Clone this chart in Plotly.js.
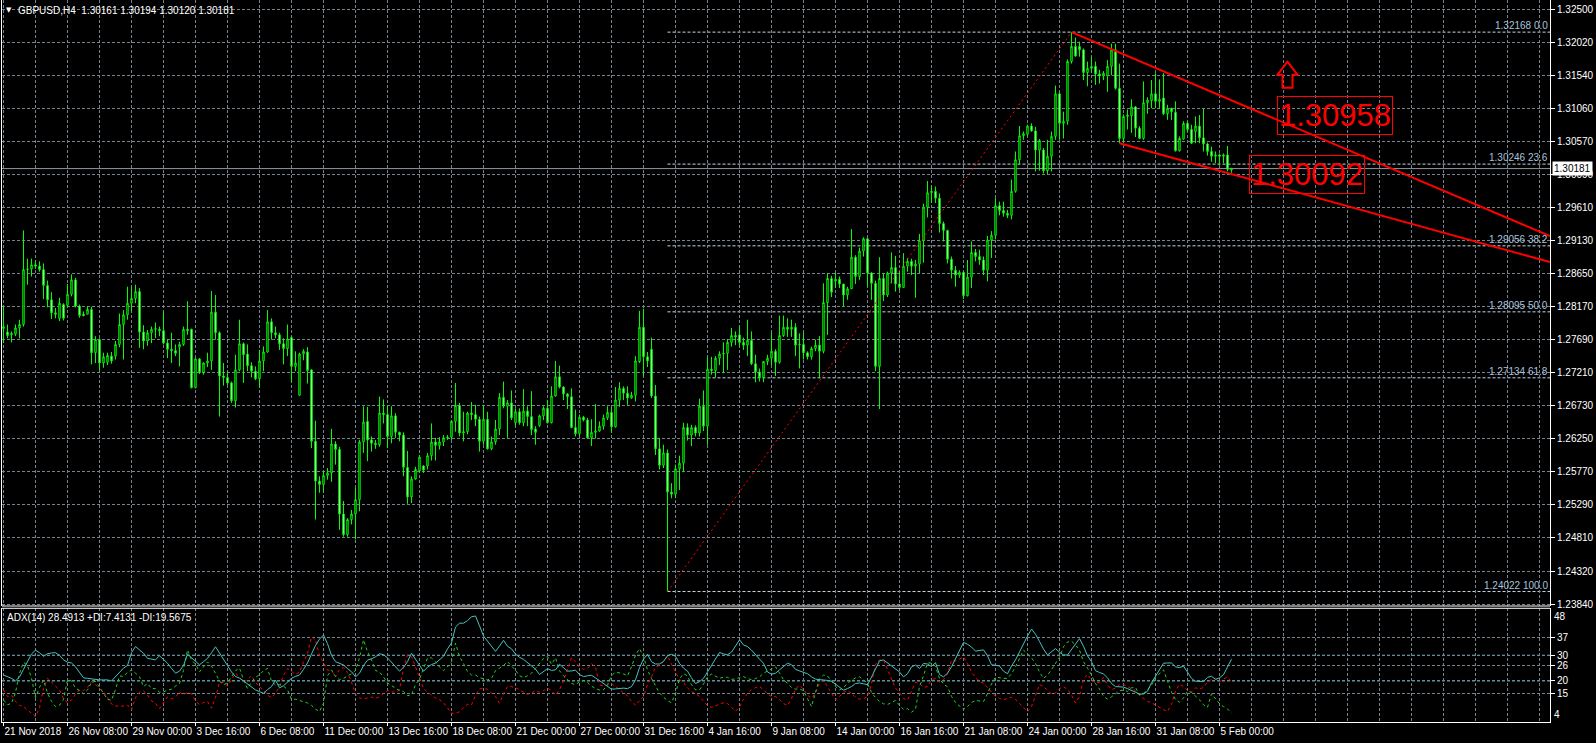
<!DOCTYPE html>
<html><head><meta charset="utf-8">
<script src="https://cdn.plot.ly/plotly-3.0.1.min.js"></script>
<style>html,body{margin:0;padding:0;background:#000;overflow:hidden}#chart{width:1596px;height:743px}</style>
</head><body><div id="chart"></div>
<script>
const symbolTitle = 'GBPUSD,H4\u00a0 1.30161 1.30194 1.30120 1.30181';
const adxTitle = 'ADX(14) 28.4913 +DI:7.4131 -DI:19.5675';
const timeLabels = ['21 Nov 2018','26 Nov 08:00','29 Nov 00:00','3 Dec 16:00','6 Dec 08:00','11 Dec 00:00','13 Dec 16:00','18 Dec 08:00','21 Dec 00:00','27 Dec 00:00','31 Dec 16:00','4 Jan 16:00','9 Jan 08:00','14 Jan 00:00','16 Jan 16:00','21 Jan 08:00','24 Jan 00:00','28 Jan 16:00','31 Jan 08:00','5 Feb 00:00'];
const barsPerLabel = 16;
const priceTickLabels = ['1.32500','1.32020','1.31540','1.31060','1.30570','1.30090','1.29610','1.29130','1.28650','1.28170','1.27690','1.27210','1.26730','1.26250','1.25770','1.25290','1.24810','1.24320','1.23840'];
const adxTickLabels = ['37','30','26','20','15'];
const adxEdgeLabels = ['48','4'];

const open = [
1.2785,1.2780,1.2776,1.2777,1.2786,1.2791,1.2871,1.2872,1.2878,1.2876,
1.2871,1.2848,1.2827,1.2808,1.2800,1.2820,1.2819,1.2835,1.2856,1.2818,
1.2806,1.2806,1.2813,1.2750,1.2769,1.2735,1.2736,1.2745,1.2745,1.2762,
1.2791,1.2805,1.2822,1.2829,1.2839,1.2780,1.2767,1.2779,1.2784,1.2784,
1.2782,1.2764,1.2755,1.2753,1.2758,1.2762,1.2784,1.2784,1.2699,1.2741,
1.2721,1.2735,1.2738,1.2809,1.2779,1.2716,1.2714,1.2706,1.2680,1.2725,
1.2763,1.2748,1.2731,1.2723,1.2712,1.2738,1.2751,1.2795,1.2779,1.2776,
1.2763,1.2756,1.2772,1.2730,1.2688,1.2748,1.2751,1.2725,1.2621,1.2563,
1.2558,1.2571,1.2575,1.2617,1.2609,1.2515,1.2485,1.2507,1.2515,1.2536,
1.2620,1.2650,1.2623,1.2618,1.2616,1.2662,1.2660,1.2628,1.2658,1.2634,
1.2630,1.2583,1.2540,1.2566,1.2578,1.2585,1.2585,1.2600,1.2620,1.2615,
1.2620,1.2626,1.2627,1.2650,1.2673,1.2633,1.2635,1.2662,1.2660,1.2653,
1.2621,1.2653,1.2610,1.2620,1.2639,1.2685,1.2672,1.2677,1.2648,1.2664,
1.2648,1.2665,1.2657,1.2639,1.2644,1.2658,1.2669,1.2648,1.2687,1.2715,
1.2700,1.2690,1.2686,1.2641,1.2632,1.2656,1.2652,1.2626,1.2634,1.2636,
1.2643,1.2655,1.2663,1.2642,1.2681,1.2698,1.2691,1.2684,1.2688,1.2737,
1.2787,1.2744,1.2755,1.2687,1.2610,1.2586,1.2604,1.2547,1.2544,1.2581,
1.2589,1.2641,1.2630,1.2641,1.2633,1.2672,1.2643,1.2726,1.2724,1.2742,
1.2748,1.2749,1.2765,1.2775,1.2776,1.2765,1.2761,1.2768,1.2734,1.2722,
1.2714,1.2737,1.2742,1.2752,1.2736,1.2775,1.2787,1.2784,1.2787,1.2761,
1.2762,1.2750,1.2744,1.2756,1.2761,1.2752,1.2823,1.2858,1.2854,1.2857,
1.2850,1.2834,1.2843,1.2889,1.2861,1.2898,1.2916,1.2866,1.2851,1.2730,
1.2858,1.2834,1.2866,1.2874,1.2850,1.2845,1.2876,1.2883,1.2876,1.2879,
1.2913,1.2962,1.2983,1.2985,1.2975,1.2938,1.2928,1.2886,1.2870,1.2863,
1.2867,1.2833,1.2860,1.2896,1.2890,1.2885,1.2870,1.2914,1.2921,1.2964,
1.2957,1.2953,1.2950,1.2985,1.3031,1.3066,1.3068,1.3080,1.3073,1.3045,
1.3045,1.3015,1.3036,1.3065,1.3127,1.3084,1.3087,1.3174,1.3196,1.3196,
1.3191,1.3158,1.3164,1.3167,1.3156,1.3153,1.3153,1.3167,1.3191,1.3135,
1.3062,1.3094,1.3095,1.3108,1.3077,1.3062,1.3114,1.3117,1.3127,1.3116,
1.3121,1.3098,1.3106,1.3100,1.3044,1.3061,1.3084,1.3075,1.3072,1.3080,
1.3063,1.3054,1.3043,1.3036,1.3038,1.3036,1.3038,1.30161];
const high = [
1.2818,1.2791,1.2781,1.2791,1.2798,1.2928,1.2887,1.2887,1.2885,1.2883,
1.2880,1.2855,1.2838,1.2815,1.2830,1.2822,1.2850,1.2864,1.2859,1.2820,
1.2810,1.2818,1.2817,1.2774,1.2771,1.2750,1.2750,1.2751,1.2767,1.2807,
1.2812,1.2846,1.2846,1.2849,1.2844,1.2790,1.2783,1.2788,1.2794,1.2788,
1.2810,1.2770,1.2779,1.2762,1.2766,1.2788,1.2825,1.2785,1.2742,1.2742,
1.2736,1.2750,1.2840,1.2834,1.2781,1.2735,1.2722,1.2708,1.2747,1.2798,
1.2765,1.2762,1.2736,1.2730,1.2754,1.2759,1.2812,1.2800,1.2788,1.2779,
1.2771,1.2791,1.2774,1.2752,1.2750,1.2755,1.2758,1.2725,1.2651,1.2570,
1.2577,1.2582,1.2639,1.2621,1.2613,1.2534,1.2509,1.2521,1.2553,1.2623,
1.2672,1.2671,1.2628,1.2623,1.2686,1.2682,1.2673,1.2672,1.2662,1.2635,
1.2634,1.2607,1.2570,1.2584,1.2601,1.2586,1.2604,1.2647,1.2626,1.2627,
1.2630,1.2630,1.2652,1.2706,1.2677,1.2664,1.2664,1.2678,1.2674,1.2657,
1.2674,1.2664,1.2628,1.2652,1.2691,1.2708,1.2681,1.2695,1.2669,1.2669,
1.2697,1.2672,1.2694,1.2643,1.2660,1.2672,1.2681,1.2701,1.2738,1.2731,
1.2701,1.2691,1.2698,1.2667,1.2660,1.2658,1.2655,1.2653,1.2675,1.2650,
1.2660,1.2672,1.2671,1.2700,1.2707,1.2701,1.2701,1.2693,1.2745,1.2811,
1.2814,1.2751,1.2772,1.2703,1.2626,1.2616,1.2609,1.2560,1.2587,1.2600,
1.2648,1.2647,1.2645,1.2644,1.2683,1.2695,1.2743,1.2744,1.2745,1.2752,
1.2765,1.2770,1.2786,1.2781,1.2789,1.2772,1.2798,1.2781,1.2747,1.2727,
1.2738,1.2747,1.2779,1.2755,1.2804,1.2804,1.2800,1.2798,1.2793,1.2778,
1.2779,1.2752,1.2759,1.2769,1.2774,1.2851,1.2866,1.2862,1.2866,1.2861,
1.2850,1.2846,1.2930,1.2892,1.2903,1.2918,1.2916,1.2867,1.2855,1.2889,
1.2866,1.2868,1.2896,1.2891,1.2868,1.2895,1.2888,1.2887,1.2885,1.2923,
1.2967,1.3000,1.2993,1.2992,1.2982,1.2941,1.2929,1.2890,1.2876,1.2870,
1.2868,1.2885,1.2912,1.2901,1.2900,1.2890,1.2920,1.2927,1.2975,1.2970,
1.2970,1.2958,1.3002,1.3043,1.3080,1.3072,1.3082,1.3084,1.3079,1.3061,
1.3048,1.3060,1.3072,1.3139,1.3130,1.3101,1.3177,1.32168,1.3209,1.3203,
1.3193,1.3174,1.3181,1.3174,1.3162,1.3160,1.3176,1.3200,1.3200,1.3171,
1.3097,1.3104,1.3119,1.3109,1.3080,1.3145,1.3122,1.3147,1.3157,1.3148,
1.3157,1.3111,1.3106,1.3116,1.3065,1.3087,1.3087,1.3082,1.3094,1.3096,
1.3105,1.3056,1.3050,1.3043,1.3040,1.3040,1.3051,1.30194];
const low = [
1.2764,1.2771,1.2765,1.2774,1.2771,1.2788,1.2849,1.2861,1.2872,1.2868,
1.2828,1.2816,1.2799,1.2800,1.2796,1.2797,1.2816,1.2832,1.2816,1.2801,
1.2803,1.2806,1.2733,1.2735,1.2724,1.2728,1.2732,1.2734,1.2740,1.2758,
1.2740,1.2798,1.2810,1.2822,1.2757,1.2755,1.2760,1.2764,1.2771,1.2774,
1.2762,1.2742,1.2735,1.2745,1.2730,1.2760,1.2776,1.2698,1.2698,1.2719,
1.2718,1.2729,1.2725,1.2769,1.2657,1.2702,1.2703,1.2677,1.2670,1.2723,
1.2706,1.2723,1.2714,1.2710,1.2699,1.2723,1.2750,1.2769,1.2771,1.2754,
1.2733,1.2745,1.2707,1.2723,1.2687,1.2739,1.2705,1.2611,1.2507,1.2546,
1.2546,1.2565,1.2562,1.2587,1.2492,1.2482,1.2482,1.2500,1.2478,1.2519,
1.2604,1.2592,1.2606,1.2610,1.2613,1.2647,1.2611,1.2618,1.2626,1.2621,
1.2570,1.2530,1.2531,1.2565,1.2575,1.2575,1.2580,1.2593,1.2593,1.2609,
1.2614,1.2623,1.2623,1.2635,1.2628,1.2621,1.2631,1.2652,1.2643,1.2606,
1.2616,1.2609,1.2608,1.2616,1.2630,1.2669,1.2626,1.2652,1.2643,1.2645,
1.2643,1.2643,1.2630,1.2616,1.2642,1.2652,1.2647,1.2647,1.2686,1.2698,
1.2681,1.2668,1.2640,1.2628,1.2628,1.2650,1.2625,1.2614,1.2625,1.2635,
1.2638,1.2652,1.2633,1.2641,1.2671,1.2681,1.2674,1.2683,1.2679,1.2735,
1.2716,1.2729,1.2684,1.2601,1.2580,1.2582,1.24022,1.2538,1.2538,1.2550,
1.2576,1.2622,1.2614,1.2628,1.2628,1.2636,1.2616,1.2718,1.2714,1.2732,
1.2720,1.2725,1.2759,1.2761,1.2759,1.2754,1.2745,1.2732,1.2707,1.2708,
1.2707,1.2732,1.2732,1.2716,1.2734,1.2773,1.2773,1.2773,1.2745,1.2727,
1.2740,1.2740,1.2740,1.2752,1.2713,1.2749,1.2776,1.2831,1.2844,1.2844,
1.2817,1.2827,1.2843,1.2850,1.2856,1.2890,1.2846,1.2827,1.2723,1.2668,
1.2825,1.2831,1.2851,1.2839,1.2841,1.2845,1.2868,1.2863,1.2830,1.2866,
1.2881,1.2947,1.2968,1.2968,1.2925,1.2912,1.2880,1.2858,1.2846,1.2859,
1.2828,1.2832,1.2844,1.2883,1.2878,1.2863,1.2854,1.2888,1.2915,1.2950,
1.2948,1.2946,1.2944,1.2983,1.3024,1.3060,1.3066,1.3072,1.3014,1.3015,
1.3011,1.3010,1.3014,1.3060,1.3060,1.3062,1.3082,1.3171,1.3181,1.3181,
1.3147,1.3138,1.3157,1.3140,1.3142,1.3147,1.3130,1.3154,1.3133,1.3055,
1.3057,1.3075,1.3070,1.3064,1.3061,1.3060,1.3098,1.3106,1.3106,1.3105,
1.3096,1.3089,1.3089,1.3043,1.3043,1.3060,1.3072,1.3054,1.3055,1.3055,
1.3043,1.3037,1.3028,1.3026,1.3024,1.3026,1.3014,1.30120];
const close = [
1.2788,1.2775,1.2778,1.2786,1.2791,1.2871,1.2872,1.2878,1.2876,1.2871,
1.2848,1.2827,1.2808,1.2806,1.2822,1.2800,1.2835,1.2856,1.2818,1.2804,
1.2804,1.2813,1.2750,1.2769,1.2735,1.2744,1.2746,1.2738,1.2762,1.2791,
1.2805,1.2822,1.2829,1.2839,1.2780,1.2767,1.2779,1.2784,1.2785,1.2782,
1.2764,1.2755,1.2753,1.2749,1.2762,1.2784,1.2782,1.2699,1.2741,1.2721,
1.2735,1.2738,1.2809,1.2779,1.2716,1.2714,1.2706,1.2680,1.2725,1.2763,
1.2747,1.2731,1.2723,1.2712,1.2738,1.2751,1.2795,1.2779,1.2776,1.2763,
1.2756,1.2770,1.2730,1.2735,1.2748,1.2752,1.2724,1.2621,1.2563,1.2558,
1.2571,1.2575,1.2617,1.2609,1.2515,1.2485,1.2507,1.2515,1.2536,1.2620,
1.2649,1.2623,1.2618,1.2616,1.2662,1.2660,1.2628,1.2658,1.2634,1.2630,
1.2583,1.2540,1.2566,1.2580,1.2598,1.2579,1.2600,1.2620,1.2615,1.2620,
1.2626,1.2627,1.2650,1.2673,1.2633,1.2635,1.2662,1.2660,1.2653,1.2621,
1.2653,1.2610,1.2620,1.2639,1.2685,1.2672,1.2677,1.2655,1.2664,1.2648,
1.2665,1.2657,1.2638,1.2634,1.2658,1.2669,1.2648,1.2687,1.2715,1.2700,
1.2690,1.2686,1.2641,1.2632,1.2656,1.2652,1.2626,1.2634,1.2636,1.2643,
1.2655,1.2663,1.2642,1.2681,1.2698,1.2691,1.2684,1.2688,1.2738,1.2787,
1.2744,1.2738,1.2687,1.2610,1.2586,1.2604,1.2547,1.2544,1.2581,1.2589,
1.2641,1.2630,1.2641,1.2633,1.2672,1.2643,1.2726,1.2724,1.2742,1.2748,
1.2749,1.2765,1.2775,1.2773,1.2765,1.2761,1.2768,1.2734,1.2722,1.2714,
1.2737,1.2742,1.2752,1.2736,1.2775,1.2787,1.2784,1.2787,1.2761,1.2762,
1.2750,1.2744,1.2756,1.2761,1.2752,1.2823,1.2858,1.2838,1.2857,1.2850,
1.2834,1.2843,1.2889,1.2861,1.2898,1.2916,1.2866,1.2851,1.2730,1.2858,
1.2834,1.2866,1.2874,1.2850,1.2845,1.2876,1.2883,1.2876,1.2879,1.2913,
1.2962,1.2983,1.2985,1.2975,1.2938,1.2928,1.2886,1.2870,1.2863,1.2867,
1.2833,1.2860,1.2896,1.2890,1.2885,1.2870,1.2914,1.2921,1.2964,1.2957,
1.2953,1.2950,1.2985,1.3031,1.3066,1.3069,1.3080,1.3073,1.3045,1.3059,
1.3015,1.3036,1.3065,1.3127,1.3084,1.3087,1.3174,1.3196,1.3182,1.3191,
1.3158,1.3164,1.3167,1.3156,1.3153,1.3157,1.3167,1.3191,1.3135,1.3062,
1.3094,1.3096,1.3108,1.3077,1.3062,1.3114,1.3118,1.3127,1.3116,1.3119,
1.3098,1.3106,1.3101,1.3044,1.3062,1.3084,1.3075,1.3055,1.3080,1.3063,
1.3054,1.3043,1.3036,1.3038,1.3036,1.3038,1.3017,1.30181];

const adx = [
22.3,21.8,21,20,21.5,24.5,27.5,30.5,32,31,
29.6,30.6,30.9,31,30,28.2,27.3,27,25.5,23.2,
21.2,21,20.8,20.4,20.4,20.4,20.4,20,21.6,23.6,
25,26,31,33.4,32,30.8,28.8,28.5,28.2,29.8,
28.5,26.9,24.9,23,23.8,26,30.4,29,27.4,26.3,
27.5,28.8,31,33.3,30.9,28.5,25.6,23.5,21.7,21.1,
20,18.8,17.8,16.5,15.8,15.2,16.6,17.8,20.3,17.3,
18.1,19.5,21,21.8,22.3,24.5,27,30.5,33.8,36.3,
37.9,34.5,30,27.5,27,26.2,24.8,23.6,21.6,23,
26,28.1,28.6,29.4,30.6,30.2,29,27.3,25.8,23.8,
25.3,27.5,30.8,28.5,25.8,23.8,25.3,26.4,26.9,28.1,
29.6,32.5,34.8,41,42.5,42.5,43.5,45,45.3,41.5,
37.5,35.5,33.3,31.5,33.6,35.8,33.5,32.5,30.5,29.2,
28.4,27.2,25.7,24.6,22.5,23.7,24.8,24.1,24.3,26.5,
25.3,23.8,23.9,24.2,22.5,21.7,22,22.2,21.2,
20.1,19,17.9,16.8,16.9,17.1,17.2,17,17.8,20.4,
25.2,28.5,30.4,27.5,26.6,26.6,27.6,29.8,30.4,29.6,
26.8,25,23.8,21.2,19,19.7,21,23.5,26.2,28.7,
31.1,30.5,30.2,31.2,33.6,36,34,33.4,32,30.1,
28.5,26.9,23.5,22.6,23,24.3,25.8,26.9,26.3,24.5,
23.9,23.4,22.8,21.6,20.7,20.5,20.4,20.2,19.9,18.8,
17.4,16.4,17,17.8,19,19.2,18.9,18.5,21.5,25,
27.8,28.2,27,25.9,24.8,23.5,21.6,22.8,25.5,26.2,
24.8,26.8,26.6,25.6,27.1,22.5,21.6,23,25.5,28.6,
32,35,34.3,33.2,31.6,31.8,32.1,29.8,26.3,26.1,
25.8,23.8,22.8,25.8,28.2,31.3,34.5,37.5,40.2,38.2,
35.4,32.4,30.1,31.3,32.6,31.2,30.1,30.1,32.2,34.4,
36.5,33.5,29.8,27.5,24,23.3,22.7,21.2,19,17.8,
17.8,17.6,17,16.3,15.4,14.9,14.9,16,19.3,21.7,
24.5,26.9,27,27,25.5,25.2,25.8,23.5,21,19.9,
19.8,19.8,21.4,21.8,20.6,21.2,22.4,25.5,28.49];
const plusDI = [
12.6,10.7,11.3,15.5,23,27.3,26,21,13.5,17.5,
20.3,15.3,12,10,10.5,12.8,20.5,20,17.2,16.3,
15,16.5,19.4,19.8,17.6,15.2,12.8,12.5,16.6,22,
21.7,23.4,24.2,23,21.6,17.8,19,17,17,15.6,
15.7,16.4,16.8,18,19,24.1,32.1,28.2,26.5,23.5,
25.3,27.4,25.8,23,20,18.5,19.2,21.6,24,25,
20.5,17,19.6,21.4,22.4,24,24.9,19.9,18.4,18.6,
18,16.6,12.8,12.9,12.5,11.8,11.4,10.5,9,8.1,
11.3,22,24.3,21.7,20.5,21,21.8,22.8,24.1,29,
36,31.4,28.2,24.1,23.5,21.6,19.2,18.1,17,16.2,
15.9,14.3,14.5,18.6,20.7,24.8,28.9,29,27.5,25.4,
24,25.5,27.5,34.7,29.5,26.8,23.7,22.3,22.3,21.3,
20.8,20.4,21,24,25,26,27.5,26,24.2,22,
21.3,22,23,24.8,27,28.8,29.5,26.5,29,24,
22,20.5,19,18.5,19.7,20.2,19.4,18,17,
16.5,16.5,18.5,22,23.5,23.2,22.7,22,25.5,30,
32.6,29.5,24.3,21,18,15.3,13.7,12.3,11.5,15.2,
20.8,22.8,22,18.5,16.5,16.5,18.8,21.6,22.7,21.8,
21,21.5,21.4,20.6,20.8,21.3,21.7,20.9,20.5,20.9,
21.6,23,23.9,24.8,25.5,23.1,20.5,19,17.5,16.8,
16.9,16.2,13,10,15.6,20.8,22.3,21.9,20,17.8,
16.5,17.3,19.2,20.2,21.2,21.6,20.3,19.1,15.5,13.5,
12,11.1,10.8,11.7,12.4,10.5,8.9,9.2,7.8,9,
17.8,22,27,27,25.6,21,18.7,17.7,14,11.6,
10.2,8.9,10,11.6,12.4,12.2,12,15,18.8,21.5,
21.2,21,21,22.8,25.5,28.6,32,30.5,29,26.8,
23.5,21,22.3,24.4,26.7,29.2,33.3,35.2,35.5,34,
32,27.5,25,22.3,19,16.8,14,12.9,13.8,15.1,
16.2,16.4,15.9,17.3,17.5,14.5,15.2,16.6,18.4,21.3,
23,24.3,20,15.6,12.7,11.7,13.4,16,15.5,14.1,
12.7,10.7,9.7,15,12.8,11.1,10,9.1,7.41];
const minusDI = [
16.5,13.9,14.4,12,10.5,10,8.7,7.5,6.1,9.5,
17,21,19.4,17.8,16.5,13,11.5,12.5,14.8,16.5,
16.2,17.5,19.8,18.6,17,15.9,13.5,11,10.2,10.1,
10.2,10.6,8.8,13.6,15.6,16.1,14.6,12.2,11.3,9.2,
11.5,13.7,13,13.7,15.7,14.6,15.6,15,12.2,10.8,
11.6,12,9.4,13.5,19.5,19.4,18,20.4,23,21.5,
19.5,20.5,22,19.5,17.6,16.6,14.5,13.5,15.2,17.8,
22.3,24.8,23.8,22.6,23.4,27.5,30.5,37.2,36,29.8,
27.2,24.2,24.2,21.6,24.5,25.2,23.3,19.5,14.9,13.4,
13,13.3,13.7,13.2,13.8,15.2,16.2,15.7,15.6,16.5,
25,30.1,29.5,25.5,20.8,17,15.7,14.5,13.3,12.7,
11.5,9.5,7.4,7.4,8,9.6,10.9,10.6,14.5,16.8,
17.2,16.7,15.2,13.9,11.3,15,17.8,17.8,17.4,16.5,
15.4,14.8,15.3,16.3,15.6,16.2,17.2,16.2,14.5,16.5,
20,24.5,29,27.5,25.3,24.5,24.9,26.7,25.4,
18.5,18,18.3,19,17.8,16.8,15.3,14.2,12,10.5,
12.3,13.9,18.5,21.5,25.5,26,27.5,29.8,26.5,23.2,
20.5,19.5,17.3,15.8,15.2,13.9,12,10.4,9.7,10.2,
10.7,11.5,11.2,9.7,8.2,9.8,12.9,15.2,16.6,17.4,
17.8,16.6,15,13.9,13.9,12.7,11.2,10.4,13.2,16.8,
18.4,16.6,14.5,13.2,15.3,19.1,20.2,17.8,15.2,12.7,
13.9,15.4,16.4,15,13.7,12.9,13.1,13.9,18.8,26.5,
28.2,28.1,24.5,20.2,17.2,15.4,13.2,12.5,16,19.5,
19,17.5,17.8,20.4,21,19.6,20.5,22.7,28,27.8,
28.5,29.4,26.8,23.5,21.3,19.8,19.1,17.3,15.5,14,
13.2,12.6,13.3,13.6,12.8,11.2,9.5,8,10,14.5,
18.6,17.7,16.5,14.8,15.3,17,17.7,16.8,14.5,11.4,
14,20.6,22.6,20.4,19.1,19.5,21.3,18.5,16.6,17.2,
18.6,18.6,17.9,17.2,16.2,14.4,13.2,12,11.5,10.6,
9.4,8.8,8.1,10.8,16,18.7,17.8,16.2,15.7,17.3,
16.8,17.5,19.5,20.6,21,19.6,20.8,21.5,19.57];

// Fibonacci retracement (low bar 166 -> high bar 267)
const fibLevels = [1.32168, 1.30246, 1.29056, 1.28095, 1.27134, 1.24022];
const fibRatios = ['0.0', '23.6', '38.2', '50.0', '61.8', '100.0'];
const fibLowBar = 166, fibHighBar = 267;
// Channel trend lines (bar, price)
const upperTrendBars = [267, 386.6], upperTrendPrices = [1.32168, 1.29199];
const lowerTrendBars = [279, 386.6], lowerTrendPrices = [1.3055, 1.2882];
const lastPrice = 1.30181;
const adxLevels = [20, 30];
const redLabels = ['1.30958', '1.30092'];
const redLabelBars = [332.8, 325.9], redLabelPrices = [1.30953, 1.30098];
const arrowBar = 321, arrowPrice = 1.31359;

// ---------- build ----------
const bars = close.map((_, i) => i);
const labelBars = timeLabels.map((_, i) => i * barsPerLabel);
const xRange = [-0.375, 386.625];
const gridBars = [];
for (let b = 0; b <= 386; b += 8) gridBars.push(b);
const priceTicks = priceTickLabels.map(Number);
const adxTicks = adxTickLabels.map(Number);

const FONT = 'Liberation Sans, Arial, sans-serif';
const GRID = '#76838f';
const GDASH = '3px,2px';
const LIME = '#00ff00';
const RED = '#ff0000';

const traces = [
  {type: 'candlestick', x: bars, open: open, high: high, low: low, close: close,
   xaxis: 'x', yaxis: 'y', whiskerwidth: 0, hoverinfo: 'skip',
   increasing: {line: {color: LIME, width: 1}, fillcolor: '#000000'},
   decreasing: {line: {color: LIME, width: 1}, fillcolor: '#ffffff'}},
  {type: 'scatter', mode: 'lines', x: [fibLowBar, fibHighBar], y: [fibLevels[5], fibLevels[0]],
   xaxis: 'x', yaxis: 'y', line: {color: RED, width: 1, dash: '2px,3px'}, hoverinfo: 'skip'},
  {type: 'scatter', mode: 'lines', x: upperTrendBars, y: upperTrendPrices, xaxis: 'x', yaxis: 'y',
   line: {color: RED, width: 2}, hoverinfo: 'skip'},
  {type: 'scatter', mode: 'lines', x: lowerTrendBars, y: lowerTrendPrices, xaxis: 'x', yaxis: 'y',
   line: {color: RED, width: 2}, hoverinfo: 'skip'},
  {type: 'scatter', mode: 'lines', x: bars, y: minusDI, xaxis: 'x', yaxis: 'y2',
   line: {color: RED, width: 1, dash: '3px,3px'}, hoverinfo: 'skip'},
  {type: 'scatter', mode: 'lines', x: bars, y: plusDI, xaxis: 'x', yaxis: 'y2',
   line: {color: '#22d022', width: 1, dash: '3px,3px'}, hoverinfo: 'skip'},
  {type: 'scatter', mode: 'lines', x: bars, y: adx, xaxis: 'x', yaxis: 'y2',
   line: {color: '#46c2c2', width: 1}, hoverinfo: 'skip'}
];

const shapes = [];
fibLevels.forEach(lv => shapes.push({type: 'line', xref: 'x', yref: 'y', x0: fibLowBar, x1: xRange[1], y0: lv, y1: lv,
  line: {color: '#c9d6e2', width: 1, dash: '3px,2px'}, layer: 'below'}));
adxLevels.forEach(lv => shapes.push({type: 'line', xref: 'paper', yref: 'y2', x0: 0, x1: 1, y0: lv, y1: lv,
  line: {color: '#35d3da', width: 1, dash: '3px,2px'}, layer: 'below'}));
shapes.push({type: 'line', xref: 'paper', yref: 'y', x0: 0, x1: 1, y0: lastPrice, y1: lastPrice,
  line: {color: '#8f98a1', width: 1}, layer: 'below'});
shapes.push({type: 'path', xref: 'x', yref: 'y', xsizemode: 'pixel', ysizemode: 'pixel',
  xanchor: arrowBar, yanchor: arrowPrice,
  path: 'M -5,0 L 5,0 L 5,13 L 10,13 L 0,26 L -10,13 L -5,13 Z',
  line: {color: RED, width: 2}, fillcolor: 'rgba(0,0,0,0)'});
// panel borders
shapes.push({type: 'line', xref: 'paper', yref: 'paper', x0: 0, x1: 1, y0: 0.16066, y1: 0.16066, line: {color: '#ffffff', width: 1}});
shapes.push({type: 'line', xref: 'paper', yref: 'paper', x0: 0, x1: 1, y0: 0.1575, y1: 0.1575, line: {color: '#ffffff', width: 1}});

const annotations = [];
annotations.push({xref: 'paper', yref: 'paper', x: 0, y: 1, xanchor: 'left', yanchor: 'top', xshift: 3, yshift: -5,
  text: '\u25BC', showarrow: false, font: {family: 'DejaVu Sans', size: 7, color: '#ffffff'}, borderpad: 0});
annotations.push({xref: 'paper', yref: 'paper', x: 0, y: 1, xanchor: 'left', yanchor: 'top', xshift: 15, yshift: -4,
  text: symbolTitle, showarrow: false, font: {family: FONT, size: 10, color: '#ffffff'}, borderpad: 0});
annotations.push({xref: 'paper', yref: 'paper', x: 0, y: 0.1575, xanchor: 'left', yanchor: 'top', xshift: 4, yshift: -3,
  text: adxTitle, showarrow: false, font: {family: FONT, size: 10, color: '#ffffff'}, borderpad: 0});
fibLevels.forEach((lv, k) => annotations.push({xref: 'paper', yref: 'y', x: 1, y: lv, xanchor: 'right', yanchor: 'bottom',
  xshift: -1, text: lv.toFixed(5) + ' ' + fibRatios[k], showarrow: false,
  font: {family: FONT, size: 10, color: '#a9c3dc'}, borderpad: 0}));
redLabels.forEach((t, k) => annotations.push({xref: 'x', yref: 'y', x: redLabelBars[k], y: redLabelPrices[k],
  xanchor: 'center', yanchor: 'middle', text: t, showarrow: false,
  font: {family: FONT, size: 31, color: RED}, bordercolor: RED, borderwidth: 1, borderpad: 1}));
annotations.push({xref: 'paper', yref: 'y', x: 1, y: lastPrice, xanchor: 'left', yanchor: 'middle', xshift: 2,
  text: lastPrice.toFixed(5), showarrow: false, bgcolor: '#ffffff',
  font: {family: FONT, size: 10, color: '#000000'}, borderpad: 1});
annotations.push({xref: 'paper', yref: 'y2', x: 1, y: 48, xanchor: 'left', yanchor: 'top', xshift: 3, yshift: -1,
  text: adxEdgeLabels[0], showarrow: false, font: {family: FONT, size: 10, color: '#ffffff'}, borderpad: 0});
annotations.push({xref: 'paper', yref: 'y2', x: 1, y: 4, xanchor: 'left', yanchor: 'bottom', xshift: 3, yshift: 1,
  text: adxEdgeLabels[1], showarrow: false, font: {family: FONT, size: 10, color: '#ffffff'}, borderpad: 0});

const tickFont = {family: FONT, size: 10, color: '#ffffff'};
const layout = {
  width: 1596, height: 743,
  margin: {l: 2, r: 46, t: 0, b: 21, pad: 0},
  paper_bgcolor: '#000000', plot_bgcolor: '#000000',
  showlegend: false, hovermode: false, dragmode: false,
  boxgap: 0.5,
  font: {family: FONT, size: 10, color: '#ffffff'},
  xaxis: {range: xRange, anchor: 'y2', rangeslider: {visible: false}, type: 'linear',
    tickmode: 'array', tickvals: labelBars, ticktext: timeLabels, ticks: 'outside', ticklen: 3, tickcolor: '#ffffff',
    ticklabelposition: 'outside right', tickangle: 0, automargin: false, tickfont: tickFont,
    showgrid: true, gridcolor: GRID, griddash: GDASH, gridwidth: 1,
    minor: {tickmode: 'array', tickvals: gridBars, showgrid: true, gridcolor: GRID, griddash: GDASH, gridwidth: 1, ticks: ''},
    showline: true, linecolor: '#ffffff', linewidth: 1, zeroline: false, fixedrange: true},
  yaxis: {domain: [0.16066, 1], range: [1.238111, 1.326359], side: 'right', anchor: 'x',
    tickmode: 'array', tickvals: priceTicks, ticktext: priceTickLabels, ticks: 'outside', ticklen: 4, tickcolor: '#ffffff',
    tickfont: tickFont, showgrid: true, gridcolor: GRID, griddash: GDASH, gridwidth: 1, automargin: false,
    showline: true, mirror: true, linecolor: '#ffffff', linewidth: 1, zeroline: false, fixedrange: true},
  yaxis2: {domain: [0, 0.1575], range: [4, 48.3], side: 'right', anchor: 'x',
    tickmode: 'array', tickvals: adxTicks, ticktext: adxTickLabels, ticks: 'outside', ticklen: 4, tickcolor: '#ffffff',
    tickfont: tickFont, showgrid: true, gridcolor: GRID, griddash: GDASH, gridwidth: 1, automargin: false,
    showline: true, mirror: true, linecolor: '#ffffff', linewidth: 1, zeroline: false, fixedrange: true},
  shapes: shapes,
  annotations: annotations
};

Plotly.newPlot('chart', traces, layout, {displayModeBar: false, staticPlot: true});
</script>
</body></html>
